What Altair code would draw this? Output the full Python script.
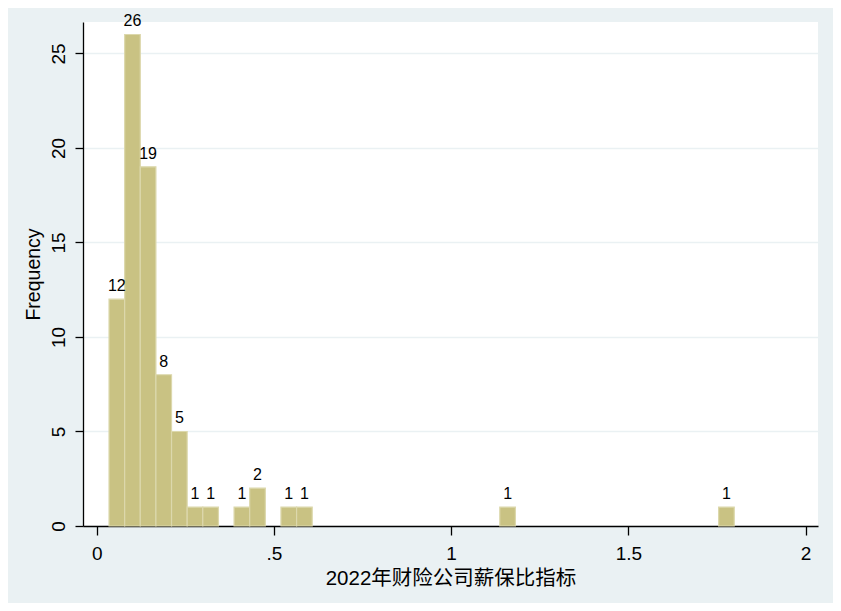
import altair as alt
import pandas as pd

# Histogram data (40 equal-width bins)
bin_start0 = 0.0347
bin_width = 0.0441
bin_index = [0, 1, 2, 3, 4, 5, 6, 8, 9, 11, 12, 25, 39]
counts = [12, 26, 19, 8, 5, 1, 1, 1, 2, 1, 1, 1, 1]

x_ticks = [0, 0.5, 1, 1.5, 2]
x_tick_labels = ["0", ".5", "1", "1.5", "2"]
y_ticks = [0, 5, 10, 15, 20, 25]

df = pd.DataFrame({
    "x0": [bin_start0 + i * bin_width for i in bin_index],
    "x1": [bin_start0 + (i + 1) * bin_width for i in bin_index],
    "count": counts,
})
df["xm"] = (df["x0"] + df["x1"]) / 2

FONT = "Liberation Sans, Arial, Noto Sans CJK SC"

label_map = "{" + ",".join(f"'{v}':'{l}'" for v, l in zip(x_ticks, x_tick_labels)) + "}"

xscale = alt.Scale(domain=[-0.0387, 2.035], nice=False, zero=False)
yscale = alt.Scale(domain=[0, 26.66], nice=False, zero=True)

bars = alt.Chart(df).mark_rect(
    color="#C9C283", stroke="#DCD8AC", strokeWidth=1.2
).encode(
    x=alt.X("x0:Q", scale=xscale,
            axis=alt.Axis(values=x_ticks, title="2022年财险公司薪保比指标",
                          labelExpr=f"{label_map}[toString(datum.value)] || datum.label",
                          grid=False, titleFontSize=20.5)),
    x2="x1:Q",
    y=alt.Y("count:Q", scale=yscale,
            axis=alt.Axis(values=y_ticks, title="Frequency", grid=True,
                          labelAngle=270, labelAlign="center", labelBaseline="bottom")),
    y2=alt.datum(0),
)

labels = alt.Chart(df).mark_text(
    baseline="alphabetic", dy=-8, fontSize=16, font=FONT, color="#000000"
).encode(
    x=alt.X("xm:Q", scale=xscale),
    y=alt.Y("count:Q", scale=yscale),
    text="count:Q",
)

chart = (bars + labels).properties(
    width=735, height=504,
    background="#EAF1F3",
    padding={"left": 75, "top": 14, "right": 15, "bottom": 77},
    autosize=alt.AutoSizeParams(type="none"),
).configure_view(
    fill="#FFFFFF", stroke=None
).configure_axis(
    labelFont=FONT, titleFont=FONT, labelFontSize=19, titleFontSize=19.5,
    labelColor="#000000", titleColor="#000000", titleFontWeight="normal",
    domainColor="#000000", domainWidth=1.3, tickColor="#000000", tickWidth=1.3,
    gridColor="#EAF1F3", gridWidth=1.3,
).configure_axisX(
    tickSize=9, labelPadding=9, titlePadding=5,
).configure_axisY(
    tickSize=8, labelPadding=7, titlePadding=6,
)

chart.save("out.html", embed_options={"renderer": "svg", "actions": False})
